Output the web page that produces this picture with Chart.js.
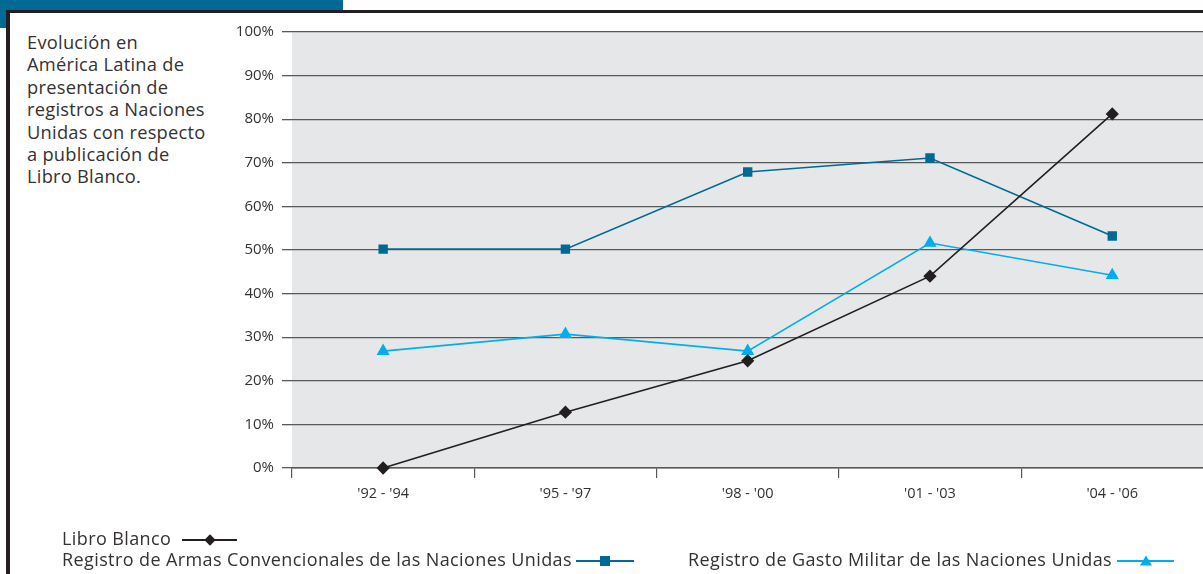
<!DOCTYPE html>
<html>
<head>
<meta charset="utf-8">
<script src="https://cdn.jsdelivr.net/npm/chart.js@4"></script>
<style>
  html, body { margin: 0; padding: 0; background: #fff; }
  body { width: 1203px; height: 574px; position: relative; overflow: hidden; font-family: "Open Sans", "Noto Sans", sans-serif; color: #231f20; }
  .tab { position: absolute; left: 0; top: 0; width: 343px; height: 10px; background: #006a94; }
  .tab-side { position: absolute; left: 0; top: 0; width: 6px; height: 28px; background: #006a94; }
  .frame-top { position: absolute; left: 6px; top: 10px; right: 0; height: 3px; background: #231f20; }
  .frame-left { position: absolute; left: 6px; top: 10px; width: 4px; bottom: 0; background: #231f20; }
  .note { position: absolute; left: 27px; top: 31px; font-size: 18.3px; line-height: 22.4px; font-weight: 400; letter-spacing: 0.25px; color: #353132; }
  #wrap { position: absolute; left: 0; top: 0; width: 1211px; height: 574px; }
  .legend { position: absolute; font-size: 18px; font-weight: 400; letter-spacing: 0.4px; white-space: nowrap; line-height: 20px; color: #353132; }
  .sample { display: inline-block; position: relative; width: 56px; height: 12px; vertical-align: middle; margin-left: 8px; }
  .sample::before { content: ""; position: absolute; left: 0; right: 0; top: 5px; height: 2px; background: var(--c); }
  .mk { position: absolute; left: 50%; top: 50%; }
  .mk.diamond { width: 8px; height: 8px; background: var(--c); transform: translate(-50%, -50%) rotate(45deg); }
  .mk.square { width: 10px; height: 10px; background: var(--c); transform: translate(-50%, -50%); }
  .mk.tri { width: 0; height: 0; border-left: 6px solid transparent; border-right: 6px solid transparent; border-bottom: 10px solid var(--c); transform: translate(-50%, -55%); }
</style>
</head>
<body>
<div class="tab"></div>
<div class="tab-side"></div>
<div class="frame-top"></div>
<div class="frame-left"></div>
<div class="note">Evolución en<br>América Latina de<br>presentación de<br>registros a Naciones<br>Unidas con respecto<br>a publicación de<br>Libro Blanco.</div>
<div id="wrap"><canvas id="chart"></canvas></div>
<div class="legend" style="left:62px; top:528px;">Libro Blanco<span class="sample" style="--c:#231f20; width:55px; margin-left:11px"><span class="mk diamond"></span></span></div>
<div class="legend" style="left:62px; top:549px;">Registro de Armas Convencionales de las Naciones Unidas<span class="sample" style="--c:#006a94; width:58px; margin-left:4px"><span class="mk square"></span></span></div>
<div class="legend" style="left:688px; top:549px;">Registro de Gasto Militar de las Naciones Unidas<span class="sample" style="--c:#00aeef; width:57px; margin-left:5px"><span class="mk tri"></span></span></div>
<script>
const periods = ["'92 - '94", "'95 - '97", "'98 - '00", "'01 - '03", "'04 - '06"];
const libroBlanco = [0, 12.8, 24.6, 44.0, 81.2];
const armasConvencionales = [50.2, 50.2, 67.9, 71.1, 53.2];
const gastoMilitar = [26.8, 30.7, 26.8, 51.6, 44.2];

const COLORS = {
    libro: '#231f20',
    armas: '#006a94',
    gasto: '#00aeef',
    plotBg: '#e6e7e8',
    grid: '#58595b'
};

// grey plot background
const plotBackground = {
    id: 'plotBackground',
    beforeDraw(chart) {
        const a = chart.chartArea;
        const ctx = chart.ctx;
        ctx.save();
        ctx.fillStyle = COLORS.plotBg;
        ctx.fillRect(a.left, a.top, a.right - a.left, a.bottom - a.top);
        ctx.restore();
    }
};

const ctx = document.getElementById('chart').getContext('2d');
new Chart(ctx, {
    type: 'line',
    data: {
        labels: periods,
        datasets: [
            {
                label: 'Libro Blanco',
                data: libroBlanco,
                borderColor: COLORS.libro,
                backgroundColor: COLORS.libro,
                borderWidth: 1.6,
                pointStyle: 'rectRot',
                pointRadius: 5.5,
                tension: 0,
                clip: false
            },
            {
                label: 'Registro de Armas Convencionales de las Naciones Unidas',
                data: armasConvencionales,
                borderColor: COLORS.armas,
                backgroundColor: COLORS.armas,
                borderWidth: 1.6,
                pointStyle: 'rect',
                pointRadius: 5.5,
                tension: 0,
                clip: false
            },
            {
                label: 'Registro de Gasto Militar de las Naciones Unidas',
                data: gastoMilitar,
                borderColor: COLORS.gasto,
                backgroundColor: COLORS.gasto,
                borderWidth: 1.6,
                pointStyle: 'triangle',
                pointRadius: 6,
                tension: 0,
                clip: false
            }
        ]
    },
    options: {
        responsive: true,
        maintainAspectRatio: false,
        animation: false,
        layout: { padding: { left: 190, top: 32, right: 0, bottom: 60 } },
        plugins: {
            legend: { display: false },
            tooltip: { enabled: false }
        },
        scales: {
            x: {
                offset: true,
                grid: {
                    offset: true,
                    drawOnChartArea: false,
                    drawTicks: true,
                    tickLength: 10,
                    color: COLORS.grid,
                    lineWidth: 1.2
                },
                border: { display: true, color: COLORS.grid, width: 1.5 },
                ticks: {
                    color: '#353132',
                    padding: 7,
                    font: { family: 'Open Sans', size: 14.5, weight: 400 }
                },
                afterFit: (scale) => { scale.height = 46; }
            },
            y: {
                min: 0,
                max: 100,
                ticks: {
                    stepSize: 10,
                    color: '#353132',
                    padding: 8,
                    font: { family: 'Open Sans', size: 15, weight: 400 },
                    callback: (v) => v + '%'
                },
                grid: {
                    color: COLORS.grid,
                    lineWidth: 1.3,
                    drawTicks: true,
                    tickLength: 10
                },
                border: { display: false },
                afterFit: (scale) => { scale.width = 102; }
            }
        }
    },
    plugins: [plotBackground]
});
</script>
</body>
</html>
